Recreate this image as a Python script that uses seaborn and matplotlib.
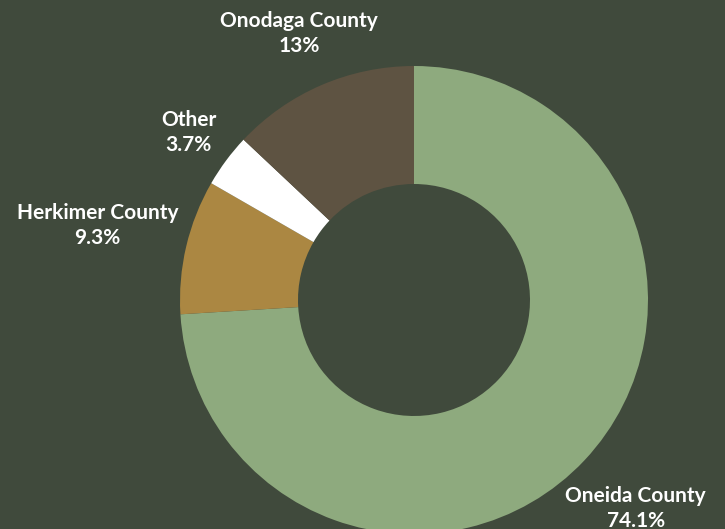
import matplotlib
matplotlib.use("Agg")
import matplotlib.pyplot as plt
import seaborn as sns
import numpy as np

sns.set_theme(style="white")
plt.rcParams["font.family"] = ["Lato", "DejaVu Sans"]

# ------------------- DATA -------------------
counties = ["Oneida County", "Herkimer County", "Other", "Onodaga County"]
shares = [74.1, 9.3, 3.7, 13.0]
share_labels = ["74.1%", "9.3%", "3.7%", "13%"]

# ------------------- STYLE -------------------
bg = "#404a3c"
colors = ["#8eaa7e", "#ab8742", "#ffffff", "#5e5342"]
label_dist = [1.30, 1.39, 1.20, 1.24]

W, H = 725, 529
cx, cy, r_out, r_in = 414, H - 300, 234, 116

fig = plt.figure(figsize=(W / 100, H / 100), dpi=100, facecolor=bg)
ax = fig.add_axes([0, 0, 1, 1])
ax.set_facecolor(bg)

wedges, _ = ax.pie(
    shares, colors=colors, startangle=90, counterclock=False,
    center=(cx, cy), radius=r_out,
    wedgeprops=dict(width=r_out - r_in, linewidth=0),
)

# outside labels at each slice's mid angle
for w, name, pct, d in zip(wedges, counties, share_labels, label_dist):
    ang = np.deg2rad((w.theta1 + w.theta2) / 2)
    x = cx + r_out * d * np.cos(ang)
    y = cy + r_out * d * np.sin(ang)
    ax.text(x, y, f"{name}\n{pct}", ha="center", va="center", color="white",
            fontsize=15, fontweight="bold", linespacing=1.3)

ax.set_xlim(0, W)
ax.set_ylim(0, H)
ax.set_aspect("equal")
ax.axis("off")

fig.savefig("out.png", dpi=100, facecolor=bg)
